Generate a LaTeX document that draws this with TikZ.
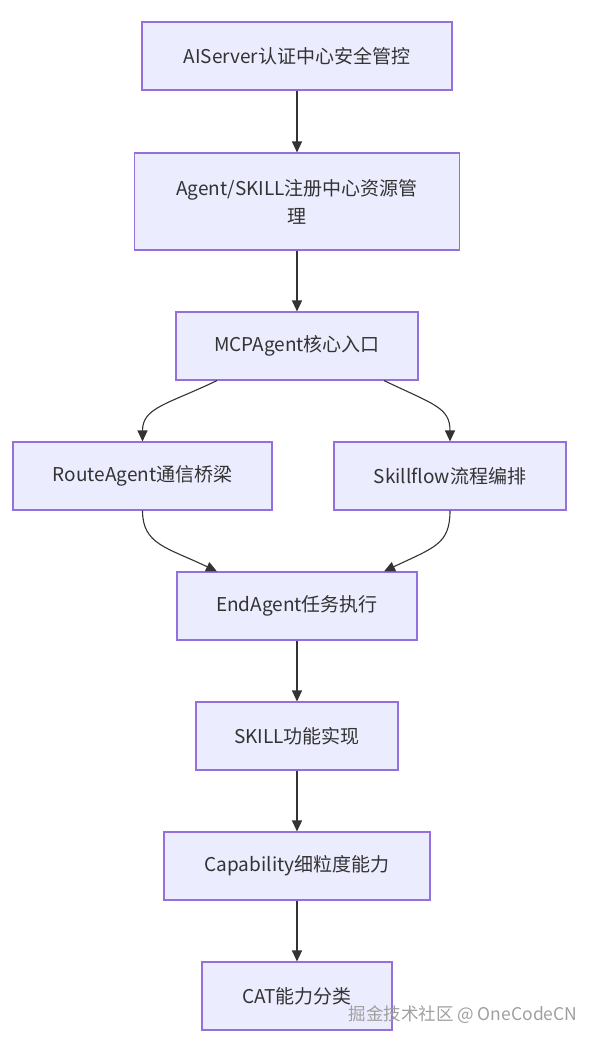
\documentclass[tikz,border=0pt]{standalone}
\usepackage{fontspec}
\usepackage{xcolor}
\usepackage{tikz}
\usetikzlibrary{arrows.meta}
\usetikzlibrary{positioning}
\newfontfamily\cjk{Noto Sans CJK SC}
\definecolor{boxfill}{HTML}{ECECFF}
\definecolor{boxline}{HTML}{9370DB}
\definecolor{ink}{HTML}{333333}
\tikzset{
  box/.style={draw=boxline, fill=boxfill, line width=1.1pt, text=ink, inner sep=0pt,
    align=center, font=\cjk\fontsize{19}{28}\selectfont},
  arr/.style={draw=ink, line width=1.1pt, -{Triangle[length=11pt,width=10pt]}}
}

\begin{document}
\begin{tikzpicture}[x=1pt,y=-1pt]
        \useasboundingbox (0,0) rectangle (599,1044);
        \node[box, minimum width=310pt, minimum height=68pt] (aiserver) at (297,56) {AIServer认证中心安全管控};
        \node[box, minimum width=325pt, minimum height=97pt] (registry) at (297,201.5) {Agent/SKILL注册中心资源管\\理};
        \node[box, minimum width=242pt, minimum height=68pt] (mcp) at (297,346) {MCPAgent核心入口};
        \node[box, minimum width=259pt, minimum height=68pt] (route) at (142.5,476) {RouteAgent通信桥梁};
        \node[box, minimum width=232pt, minimum height=68pt] (flow) at (450,476) {Skillflow流程编排};
        \node[box, minimum width=240pt, minimum height=68pt] (endagent) at (297,606) {EndAgent任务执行};
        \node[box, minimum width=202pt, minimum height=68pt] (skill) at (297,736) {SKILL功能实现};
        \node[box, minimum width=266pt, minimum height=68pt] (capability) at (297,866) {Capability细粒度能力};
        \node[box, minimum width=190pt, minimum height=68pt] (cat) at (297,996) {CAT能力分类};
        \draw[arr] (aiserver) -- (registry);
        \draw[arr] (registry) -- (mcp);
        \draw[arr] ([xshift=-80pt]mcp.south) .. controls +(-50,24) and +(0,-34) .. (route.north);
        \draw[arr] ([xshift=87pt]mcp.south) .. controls +(50,24) and +(0,-34) .. (flow.north);
        \draw[arr] (route.south) .. controls +(0,34) and +(-50,-24) .. ([xshift=-80pt]endagent.north);
        \draw[arr] (flow.south) .. controls +(0,34) and +(50,-24) .. ([xshift=87pt]endagent.north);
        \draw[arr] (endagent) -- (skill);
        \draw[arr] (skill) -- (capability);
        \draw[arr] (capability) -- (cat);
        \node[text=gray!75, font=\cjk\fontsize{17.5}{20}\selectfont] (mark) at (463,1015) {掘金技术社区 @ OneCodeCN};
    \end{tikzpicture}
\end{document}
